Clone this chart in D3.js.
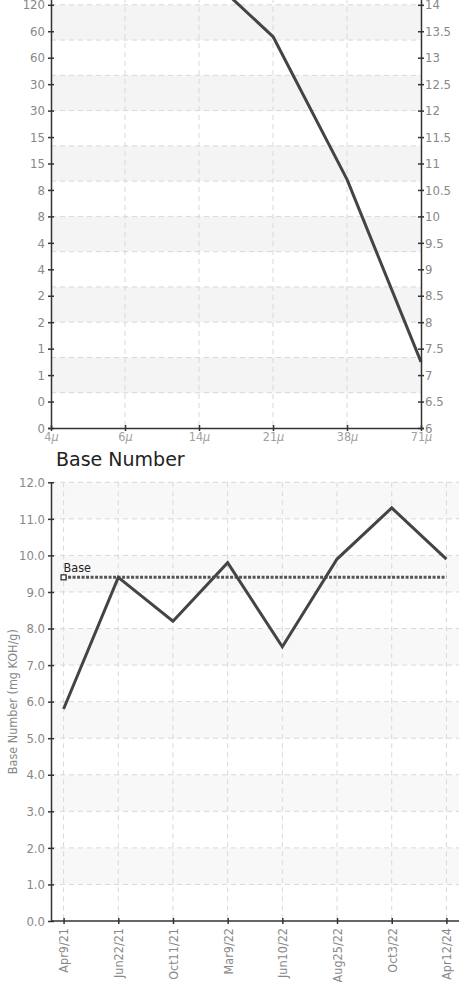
<!DOCTYPE html>
<html>
<head>
<meta charset="utf-8">
<script src="https://cdn.jsdelivr.net/npm/d3@7"></script>
<style>
  body { margin: 0; background: #fff; }
  svg { display: block; }
  .tick text { font-family: "DejaVu Sans Condensed", "DejaVu Sans", sans-serif; font-stretch: condensed; fill: #888; }
  .domain, .tick line { stroke: #333; stroke-width: 1.5; }
</style>
</head>
<body>
<div id="chart"></div>
<script>
// Particle count chart (cut off at the top in the source)
var sizeLabels = ["4", "6", "14", "21", "38", "71"];
var isoCodes = [17.6, 16.3, 14.7, 13.4, 10.7, 7.25];
var codeTicks = [6, 6.5, 7, 7.5, 8, 8.5, 9, 9.5, 10, 10.5, 11, 11.5, 12, 12.5, 13, 13.5, 14];
var countLabels = ["0", "0", "1", "1", "2", "2", "4", "4", "8", "8", "15", "15", "30", "30", "60", "60", "120"];

// Base number chart
var sampleDates = ["Apr9/21", "Jun22/21", "Oct11/21", "Mar9/22", "Jun10/22", "Aug25/22", "Oct3/22", "Apr12/24"];
var baseNumber = [5.8, 9.4, 8.2, 9.8, 7.5, 9.9, 11.3, 9.9];
var baseLimit = 9.4;
var bnTicks = [0, 1, 2, 3, 4, 5, 6, 7, 8, 9, 10, 11, 12];

var width = 466, height = 982;
var condensed = "DejaVu Sans Condensed, DejaVu Sans, sans-serif";

var svg = d3.select("#chart")
    .append("svg")
    .attr("width", width)
    .attr("height", height);

// make ticks cross the axis line like the original
function crossTicks(g, horizontal) {
    g.selectAll(".tick line")
        .attr(horizontal ? "y1" : "x1", -3)
        .attr(horizontal ? "y2" : "x2", 3);
}

// ---------- top chart ----------
var pcM = { left: 51, right: 421, bottom: 428 };

var xTop = d3.scalePoint()
    .domain(sizeLabels)
    .range([pcM.left, pcM.right]);

var yTop = d3.scaleLinear()
    .domain([6, 16])
    .range([pcM.bottom, -101]);

var gTop = svg.append("g");

// alternating bands, 15 grid steps over the full plot
var gridStep = 10 / 15;
var topGrid = d3.range(16).map(i => 6 + i * gridStep);
gTop.selectAll(".band")
    .data(topGrid.slice(0, 15).filter((d, i) => i % 2 == 1))
    .enter()
    .append("rect")
    .attr("x", pcM.left)
    .attr("width", pcM.right - pcM.left)
    .attr("y", d => yTop(d + gridStep))
    .attr("height", d => yTop(d) - yTop(d + gridStep))
    .style("fill", "#f4f4f4");

gTop.selectAll(".hgrid")
    .data(topGrid.slice(1))
    .enter()
    .append("line")
    .attr("x1", pcM.left).attr("x2", pcM.right)
    .attr("y1", d => yTop(d)).attr("y2", d => yTop(d))
    .style("stroke", "#d8d8d8")
    .style("stroke-dasharray", "5,4");

gTop.selectAll(".vgrid")
    .data(sizeLabels.slice(1, -1))
    .enter()
    .append("line")
    .attr("x1", d => xTop(d)).attr("x2", d => xTop(d))
    .attr("y1", yTop(16)).attr("y2", pcM.bottom)
    .style("stroke", "#d8d8d8")
    .style("stroke-dasharray", "5,4");

gTop.append("path")
    .datum(isoCodes)
    .attr("d", d3.line().x((d, i) => xTop(sizeLabels[i])).y(d => yTop(d)))
    .style("fill", "none")
    .style("stroke", "#444")
    .style("stroke-width", 3)
    .style("stroke-linejoin", "round");

var leftAxis = gTop.append("g")
    .attr("transform", "translate(" + pcM.left + ",0)")
    .call(d3.axisLeft(yTop).tickValues(codeTicks).tickSize(3)
        .tickFormat((d, i) => countLabels[i]));
leftAxis.call(crossTicks, false);
leftAxis.selectAll("text").attr("x", -6).style("font-size", "13px");

var rightAxis = gTop.append("g")
    .attr("transform", "translate(" + pcM.right + ",0)")
    .call(d3.axisRight(yTop).tickValues(codeTicks).tickSize(3).tickFormat(d3.format("~g")));
rightAxis.call(crossTicks, false);
rightAxis.selectAll("text").attr("x", 4).style("font-size", "13px");

var bottomAxis = gTop.append("g")
    .attr("transform", "translate(0," + pcM.bottom + ")")
    .call(d3.axisBottom(xTop).tickSize(3).tickSizeOuter(0));
bottomAxis.call(crossTicks, true);
bottomAxis.selectAll("text").text(null)
    .attr("y", 4)
    .style("font-size", "12.5px")
    .style("fill", "#a0a0a0")
    .each(function (d) {
        var t = d3.select(this);
        t.append("tspan").text(d);
        t.append("tspan").text("\u03bc").style("font-style", "italic");
    });

// ---------- bottom chart ----------
var bnM = { left: 51, right: 459, top: 482.3, bottom: 921 };

var xBot = d3.scalePoint()
    .domain(sampleDates)
    .range([bnM.left, bnM.right])
    .padding(0.23);

var yBot = d3.scaleLinear()
    .domain([0, 12])
    .range([bnM.bottom, bnM.top]);

var gBot = svg.append("g");

svg.append("text")
    .attr("x", 56)
    .attr("y", 466)
    .style("font-family", "DejaVu Sans, sans-serif")
    .style("font-size", "19px")
    .style("fill", "#222")
    .text("Base Number");

gBot.selectAll(".band")
    .data(bnTicks.slice(0, -1).filter(d => d % 2 == 1))
    .enter()
    .append("rect")
    .attr("x", bnM.left)
    .attr("width", bnM.right - bnM.left)
    .attr("y", d => yBot(d + 1))
    .attr("height", d => yBot(d) - yBot(d + 1))
    .style("fill", "#f8f8f8");

gBot.selectAll(".hgrid")
    .data(bnTicks.slice(1))
    .enter()
    .append("line")
    .attr("x1", bnM.left).attr("x2", bnM.right)
    .attr("y1", d => yBot(d)).attr("y2", d => yBot(d))
    .style("stroke", "#d8d8d8")
    .style("stroke-dasharray", "5,4");

gBot.selectAll(".vgrid")
    .data(sampleDates)
    .enter()
    .append("line")
    .attr("x1", d => xBot(d)).attr("x2", d => xBot(d))
    .attr("y1", bnM.top).attr("y2", bnM.bottom)
    .style("stroke", "#d8d8d8")
    .style("stroke-dasharray", "5,4");

// base reference line
var xFirst = xBot(sampleDates[0]), xLast = xBot(sampleDates[sampleDates.length - 1]);
gBot.append("line")
    .attr("x1", xFirst).attr("x2", xLast)
    .attr("y1", yBot(baseLimit)).attr("y2", yBot(baseLimit))
    .style("stroke", "#555")
    .style("stroke-width", 3)
    .style("stroke-dasharray", "3,1.5");

gBot.append("path")
    .datum(baseNumber)
    .attr("d", d3.line().x((d, i) => xBot(sampleDates[i])).y(d => yBot(d)))
    .style("fill", "none")
    .style("stroke", "#444")
    .style("stroke-width", 3)
    .style("stroke-linejoin", "miter");

gBot.append("rect")
    .attr("x", xFirst - 2.5).attr("y", yBot(baseLimit) - 2.5)
    .attr("width", 5).attr("height", 5)
    .style("fill", "#fff")
    .style("stroke", "#222")
    .style("stroke-width", 1.2);

gBot.append("text")
    .attr("x", xFirst)
    .attr("y", yBot(baseLimit) - 5)
    .style("font-family", condensed)
    .style("font-size", "12.5px")
    .style("fill", "#222")
    .text("Base");

var yAxisBot = gBot.append("g")
    .attr("transform", "translate(" + bnM.left + ",0)")
    .call(d3.axisLeft(yBot).tickValues(bnTicks).tickSize(3).tickSizeOuter(0).tickFormat(d3.format(".1f")));
yAxisBot.call(crossTicks, false);
yAxisBot.selectAll("text").attr("x", -6).style("font-size", "13px");

var xAxisBot = gBot.append("g")
    .attr("transform", "translate(0," + bnM.bottom + ")")
    .call(d3.axisBottom(xBot).tickSize(3).tickSizeOuter(0));
xAxisBot.select(".domain").attr("d", "M" + bnM.left + ",0H" + bnM.right);
xAxisBot.call(crossTicks, true);
xAxisBot.selectAll("text")
    .attr("transform", "rotate(-90)")
    .attr("x", -7)
    .attr("y", 0)
    .attr("dy", "0.35em")
    .style("text-anchor", "end")
    .style("font-size", "12.5px");

svg.append("text")
    .attr("transform", "translate(13," + (bnM.top + bnM.bottom) / 2 + ") rotate(-90)")
    .attr("dy", "0.35em")
    .style("text-anchor", "middle")
    .style("font-family", condensed)
    .style("font-size", "12.5px")
    .style("fill", "#888")
    .text("Base Number (mg KOH/g)");
</script>
</body>
</html>
